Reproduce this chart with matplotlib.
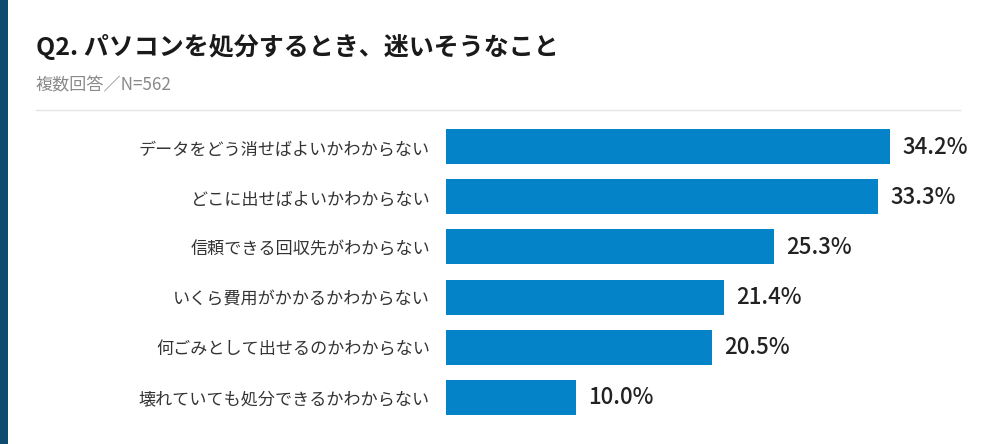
import matplotlib
matplotlib.use("Agg")
import matplotlib.pyplot as plt
from matplotlib.patches import Rectangle
from matplotlib.lines import Line2D

plt.rcParams['font.family'] = ['Noto Sans CJK JP', 'DejaVu Sans']

title = "Q2. パソコンを処分するとき、迷いそうなこと"
subtitle = "複数回答／N=562"
categories = [
    "データをどう消せばよいかわからない",
    "どこに出せばよいかわからない",
    "信頼できる回収先がわからない",
    "いくら費用がかかるかわからない",
    "何ごみとして出せるのかわからない",
    "壊れていても処分できるかわからない",
]
values = [34.2, 33.3, 25.3, 21.4, 20.5, 10.0]

W, H = 1000, 444
fig = plt.figure(figsize=(W / 100, H / 100), dpi=100)
fig.patch.set_facecolor("white")

# left stripe
fig.add_artist(Rectangle((0, 0), 8 / W, 1, transform=fig.transFigure,
                         facecolor="#0e4b6e", edgecolor="none"))
# title / subtitle
fig.text(36 / W, 1 - 47 / H, title, fontsize=18, fontweight="bold",
         color="#1a1a1a", va="center", ha="left")
fig.text(36 / W, 1 - 85 / H, subtitle, fontsize=12.3, color="#8a8a8a",
         va="center", ha="left")
# separator
fig.add_artist(Line2D([36 / W, 960 / W], [1 - 110 / H, 1 - 110 / H],
                      transform=fig.transFigure, color="#e4e4e4", lw=1))

xmax = 40
px_per = (890 - 446) / 34.2
ax_w = xmax * px_per
ax = fig.add_axes([446 / W, 1 - 422 / H, ax_w / W, 300 / H])
ax.set_facecolor("none")
ypos = list(range(len(categories)))
ax.barh(ypos, values, height=0.7, color="#0583c8", edgecolor="none")
ax.set_xlim(0, xmax)
ax.set_ylim(len(categories) - 0.5, -0.5)
for y, v in zip(ypos, values):
    ax.text(v + 12 / px_per, y, f"{v:.1f}%", va="center", ha="left",
            fontsize=16, fontweight="medium", color="#222222")
ax.set_yticks(ypos)
ax.set_yticklabels(categories, fontsize=12.3, color="#333333")
ax.tick_params(axis="y", length=0, pad=11.5)
ax.set_xticks([])
for s in ax.spines.values():
    s.set_visible(False)

fig.savefig("out.png", dpi=100, facecolor="white")
